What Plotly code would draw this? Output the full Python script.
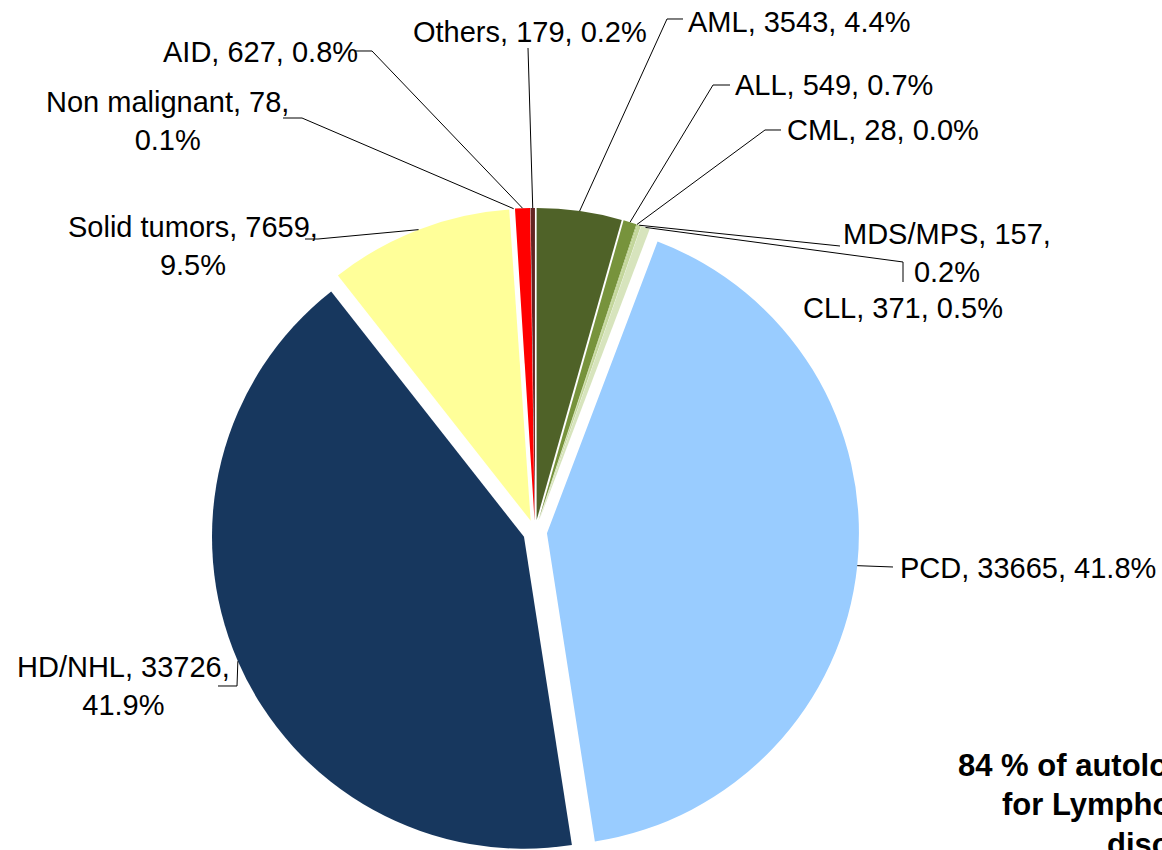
import math
import plotly.graph_objects as go

# ---------------- data ----------------
labels = ["AML", "ALL", "CML", "MDS/MPS", "CLL", "PCD", "HD/NHL",
          "Solid tumors", "Non malignant", "AID", "Others"]
values = [3543, 549, 28, 157, 371, 33665, 33726, 7659, 78, 627, 179]
colors = ["#4F6228", "#77933C", "#9BBB59", "#C3D69B", "#D7E4BD", "#99CCFF",
          "#17375E", "#FFFF99", "#FFFFFF", "#FF0000", "#632523"]
two_line = ["MDS/MPS", "HD/NHL", "Solid tumors", "Non malignant"]
note_lines = ["84 % of autologous HSCT", "for Lymphoproliferative", "disorders"]

# ---------------- layout geometry (pixels) ----------------
W, H = 1162, 860
PULL = 0.0385
box_x = (211, 859)
box_y = (208, 856)  # top, bottom in pixels
dom_x = [box_x[0] / W, box_x[1] / W]
dom_y = [1 - box_y[1] / H, 1 - box_y[0] / H]
bw = box_x[1] - box_x[0]
bh = box_y[1] - box_y[0]
R = min(bw, bh) / (2 + 2 * PULL)
CX = (box_x[0] + box_x[1]) / 2
CY = (box_y[0] + box_y[1]) / 2

# label placement (pixels): x, y, anchor
label_pos = {
    "AML": (686, 22, "left"),
    "ALL": (733, 85, "left"),
    "CML": (785, 130, "left"),
    "MDS/MPS": (947, 253, "center"),
    "CLL": (903, 308, "center"),
    "PCD": (898, 568, "left"),
    "HD/NHL": (123, 686, "center"),
    "Solid tumors": (193, 246, "center"),
    "Non malignant": (167, 121, "center"),
    "AID": (260, 52, "center"),
    "Others": (530, 32, "center"),
}
# leader line points from label toward slice (pixels)
leader_pts = {
    "AML": [(683, 19), (667, 19)],
    "ALL": [(730, 85), (713, 85)],
    "CML": [(781, 130), (765, 130)],
    "MDS/MPS": [(840, 246)],
    "CLL": [(903, 282), (903, 262)],
    "PCD": [(893, 567)],
    "HD/NHL": [(218, 686), (237, 686)],
    "Solid tumors": [(305, 239), (318, 239)],
    "Non malignant": [(283, 118), (302, 118)],
    "AID": [(355, 51), (372, 51)],
    "Others": [(528, 48)],
}
note_pos = [(956, 765), (1000, 804), (1105, 844)]

FONT = "Liberation Sans, Arial, sans-serif"


def px(x):
    return x / W


def py(y):
    return 1 - y / H


total = sum(values)
fig = go.Figure()
fig.add_trace(go.Pie(
    labels=labels, values=values, sort=False, direction="clockwise",
    rotation=0, pull=[PULL] * len(values), textinfo="none",
    hoverinfo="skip", showlegend=False,
    marker=dict(colors=colors, line=dict(width=0)),
    domain=dict(x=dom_x, y=dom_y),
))

annotations = []
shapes = []
cum = 0.0
for lab, val in zip(labels, values):
    frac = val / total
    mid = (cum + frac / 2) * 2 * math.pi
    cum += frac
    # anchor on the arc of the (pulled) slice
    ax = CX + (R + PULL * R) * math.sin(mid)
    ay = CY - (R + PULL * R) * math.cos(mid)
    pct = f"{100 * frac:.1f}%"
    sep = ",<br>" if lab in two_line else ", "
    txt = f"{lab}, {val}{sep}{pct}"
    x, y, anc = label_pos[lab]
    annotations.append(dict(
        x=px(x), y=py(y), xref="paper", yref="paper", text=txt,
        showarrow=False, xanchor=anc, yanchor="middle", align="center",
        font=dict(family=FONT, size=29, color="#000000"),
    ))
    pts = leader_pts[lab] + [(ax, ay)]
    path = "M " + " L ".join(f"{px(a):.5f},{py(b):.5f}" for a, b in pts)
    shapes.append(dict(type="path", path=path, xref="paper", yref="paper",
                       line=dict(color="#000000", width=1)))

for t, (x, y) in zip(note_lines, note_pos):
    annotations.append(dict(
        x=px(x), y=py(y), xref="paper", yref="paper", text=f"<b>{t}</b>",
        showarrow=False, xanchor="left", yanchor="middle",
        font=dict(family=FONT, size=31, color="#000000"),
    ))

fig.update_layout(
    width=W, height=H,
    margin=dict(l=0, r=0, t=0, b=0),
    paper_bgcolor="#FFFFFF", plot_bgcolor="#FFFFFF",
    annotations=annotations, shapes=shapes,
)

fig.write_html(
    "out.html",
    config={"displayModeBar": False},
    post_script="document.body.style.margin='0';document.body.style.overflow='hidden';",
)
